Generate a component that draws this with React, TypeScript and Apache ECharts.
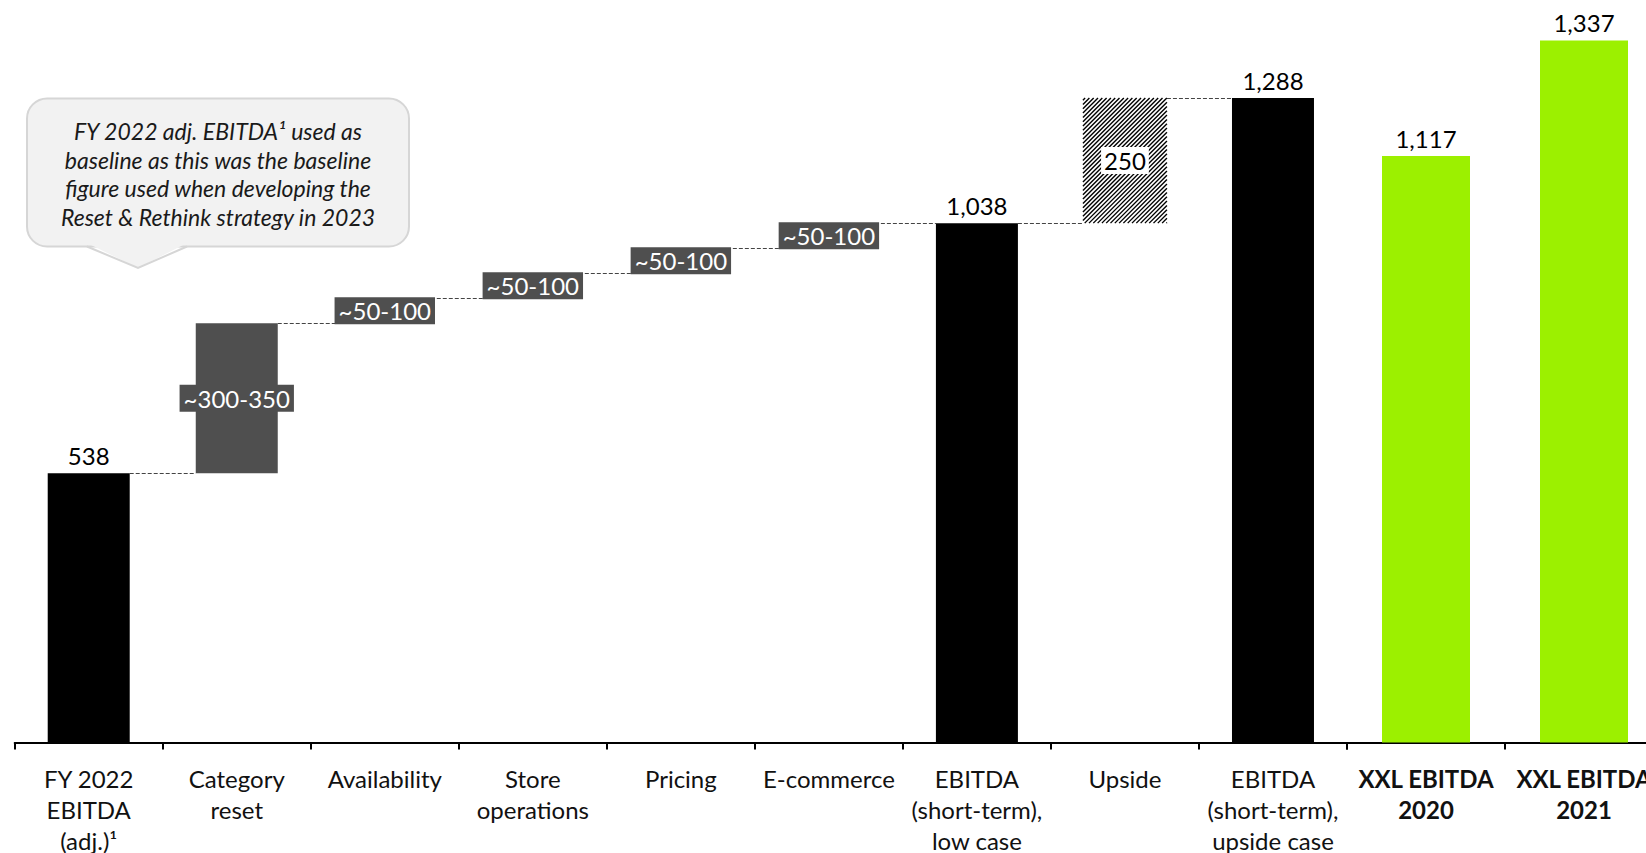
import React, { useEffect, useRef } from 'react';
import * as echarts from 'echarts';

// ---- data ----
const categories = [
  'FY 2022\nEBITDA\n(adj.)¹',
  'Category\nreset',
  'Availability',
  'Store\noperations',
  'Pricing',
  'E-commerce',
  'EBITDA\n(short-term),\nlow case',
  'Upside',
  'EBITDA\n(short-term),\nupside case',
];
const baselineValue = 538;
const stepValues = [300, 50, 50, 50, 50];
const stepLabels = ['~300-350', '~50-100', '~50-100', '~50-100', '~50-100'];
const lowCaseValue = 1038;
const upsideValue = 250;
const upsideLabel = '250';
const upsideCaseValue = 1288;
const xxlCategories = ['XXL EBITDA\n2020', 'XXL EBITDA\n2021'];
const xxlValues = [1117, 1337];
const calloutLines = [
  'FY 2022 adj. EBITDA¹ used as',
  'baseline as this was the baseline',
  'figure used when developing the',
  'Reset & Rethink strategy in 2023',
];

const FONT = 'Lato';
const GRAY = '#4f4f4f';
const GREEN = '#9cf000';

export default function App() {
  const ref = useRef<HTMLDivElement>(null);

  useEffect(() => {
    if (!ref.current) return;
    const chart = echarts.init(ref.current, undefined, { renderer: 'svg' });

    // build waterfall base/delta from the named values
    const base: number[] = [0];
    const delta: number[] = [baselineValue];
    let level = baselineValue;
    stepValues.forEach((v) => {
      base.push(level);
      delta.push(v);
      level += v;
    });
    base.push(0);
    delta.push(lowCaseValue);
    const upsideIndex = base.length;
    base.push(lowCaseValue);
    delta.push(upsideValue);
    base.push(0);
    delta.push(upsideCaseValue);

    const tops = base.map((b, i) => b + delta[i]);
    const connectors = tops.slice(0, tops.length - 1).map((v, i) => [i, v]);
    const halfW = [41, 41, 46, 46, 46, 46, 41, 42, 41];
    const hatchData = [[upsideIndex, base[upsideIndex], tops[upsideIndex]]];

    const fmt = (v: number) => v.toLocaleString('en-US');

    const deltaData = delta.map((v, i) => {
      if (i >= 1 && i <= stepValues.length) {
        return {
          value: v,
          itemStyle: { color: GRAY },
          label: {
            show: true,
            position: 'inside',
            formatter: stepLabels[i - 1],
            color: '#fff',
            backgroundColor: GRAY,
            padding: [3, 4, 2, 4],
            fontSize: 24,
            lineHeight: 22,
            fontFamily: FONT,
          },
        };
      }
      if (i === upsideIndex) {
        return {
          value: v,
          itemStyle: { color: 'rgba(0,0,0,0)' },
          label: {
            show: true,
            position: 'inside',
            formatter: upsideLabel,
            color: '#000',
            backgroundColor: '#fff',
            padding: [2, 3, 1, 3],
            fontSize: 24,
            lineHeight: 24,
            fontFamily: FONT,
          },
        };
      }
      return {
        value: v,
        itemStyle: { color: '#000' },
        label: {
          show: true,
          position: 'top',
          distance: 6,
          formatter: (p: any) => fmt(p.value),
          color: '#000',
          fontSize: 24,
          fontFamily: FONT,
        },
      };
    });

    const axisCommon = {
      type: 'category' as const,
      boundaryGap: true,
      axisLine: { lineStyle: { color: '#000', width: 2 } },
      axisTick: { show: true, length: 7, lineStyle: { color: '#000', width: 2 } },
      splitLine: { show: false },
    };

    chart.setOption({
      animation: false,
      grid: [
        { left: 14.7, width: 1332.3, top: 42, bottom: 110.5, containLabel: false, outerBoundsMode: 'none' },
        { left: 1347, width: 316, top: 7.5, bottom: 110.5, containLabel: false, outerBoundsMode: 'none' },
      ],
      xAxis: [
        {
          ...axisCommon,
          gridIndex: 0,
          data: categories,
          axisLabel: {
            interval: 0,
            color: '#111',
            fontSize: 24,
            lineHeight: 31,
            margin: 20,
            fontFamily: FONT,
          },
        },
        {
          ...axisCommon,
          gridIndex: 1,
          data: xxlCategories,
          axisLabel: {
            interval: 0,
            color: '#111',
            fontSize: 24,
            fontWeight: 'bold',
            lineHeight: 31,
            margin: 20,
            fontFamily: FONT,
          },
        },
      ],
      yAxis: [
        { type: 'value', gridIndex: 0, min: 0, max: 1400, show: false },
        { type: 'value', gridIndex: 1, min: 0, max: 1400, show: false },
      ],
      series: [
        {
          type: 'bar',
          xAxisIndex: 0,
          yAxisIndex: 0,
          stack: 'w',
          barWidth: 82,
          silent: true,
          itemStyle: { color: 'rgba(0,0,0,0)' },
          data: base,
        },
        {
          type: 'bar',
          xAxisIndex: 0,
          yAxisIndex: 0,
          stack: 'w',
          barWidth: 82,
          z: 3,
          data: deltaData,
        },
        {
          // diagonal hatching of the "Upside" block
          type: 'custom',
          xAxisIndex: 0,
          yAxisIndex: 0,
          silent: true,
          z: 1,
          data: hatchData,
          renderItem: (params: any, api: any) => {
            const i = api.value(0);
            const pTop = api.coord([i, api.value(2)]);
            const pBot = api.coord([i, api.value(1)]);
            const hw = 42;
            const x0 = pTop[0] - hw;
            const x1 = pTop[0] + hw;
            const y0 = pTop[1];
            const y1 = pBot[1];
            const step = 4.3;
            const children: any[] = [];
            for (let c = x0 + y0 + step / 2; c < x1 + y1; c += step) {
              const ya = Math.max(y0, c - x1);
              const yb = Math.min(y1, c - x0);
              if (yb <= ya) continue;
              children.push({
                type: 'line',
                shape: { x1: c - ya, y1: ya, x2: c - yb, y2: yb },
                style: { stroke: '#000', lineWidth: 1.4 },
              });
            }
            return { type: 'group', children };
          },
        },
        {
          type: 'custom',
          xAxisIndex: 0,
          yAxisIndex: 0,
          silent: true,
          z: 1,
          data: connectors,
          renderItem: (params: any, api: any) => {
            const i = api.value(0);
            const v = api.value(1);
            const p0 = api.coord([i, v]);
            const p1 = api.coord([i + 1, v]);
            const y = Math.round(p0[1]) + 0.5;
            return {
              type: 'line',
              shape: { x1: p0[0] + halfW[i], y1: y, x2: p1[0] - halfW[i + 1], y2: y },
              style: { stroke: '#444', lineWidth: 1, lineDash: [4, 2] },
            };
          },
        },
        {
          type: 'bar',
          xAxisIndex: 1,
          yAxisIndex: 1,
          barWidth: 88,
          itemStyle: { color: GREEN },
          label: {
            show: true,
            position: 'top',
            distance: 6,
            formatter: (p: any) => fmt(p.value),
            color: '#000',
            fontSize: 24,
            fontFamily: FONT,
          },
          data: xxlValues,
        },
      ],
      graphic: [
        {
          type: 'rect',
          shape: { x: 27, y: 98.5, width: 382, height: 148, r: 20 },
          style: { fill: '#f2f2f2', stroke: '#d6d6d6', lineWidth: 2 },
          z: 10,
        },
        {
          type: 'polygon',
          shape: { points: [[87, 243], [187, 243], [138, 268]] },
          style: { fill: '#f2f2f2' },
          z: 11,
        },
        {
          type: 'polyline',
          shape: { points: [[87, 246.5], [138, 268], [187, 246.5]] },
          style: { stroke: '#d6d6d6', lineWidth: 2, fill: null },
          z: 11,
        },
        {
          type: 'text',
          x: 218,
          y: 174,
          z: 12,
          style: {
            text: calloutLines.join('\n'),
            align: 'center',
            verticalAlign: 'middle',
            fontSize: 23,
            fontStyle: 'italic',
            fontFamily: FONT,
            lineHeight: 28.7,
            fill: '#1a1a1a',
          },
        },
      ],
    });

    return () => chart.dispose();
  }, []);

  return (
    <div style={{ position: 'absolute', left: 0, top: 0, width: 1646, height: 853, overflow: 'hidden', background: '#fff' }}>
      <div ref={ref} style={{ width: 1700, height: 853 }} />
    </div>
  );
}
